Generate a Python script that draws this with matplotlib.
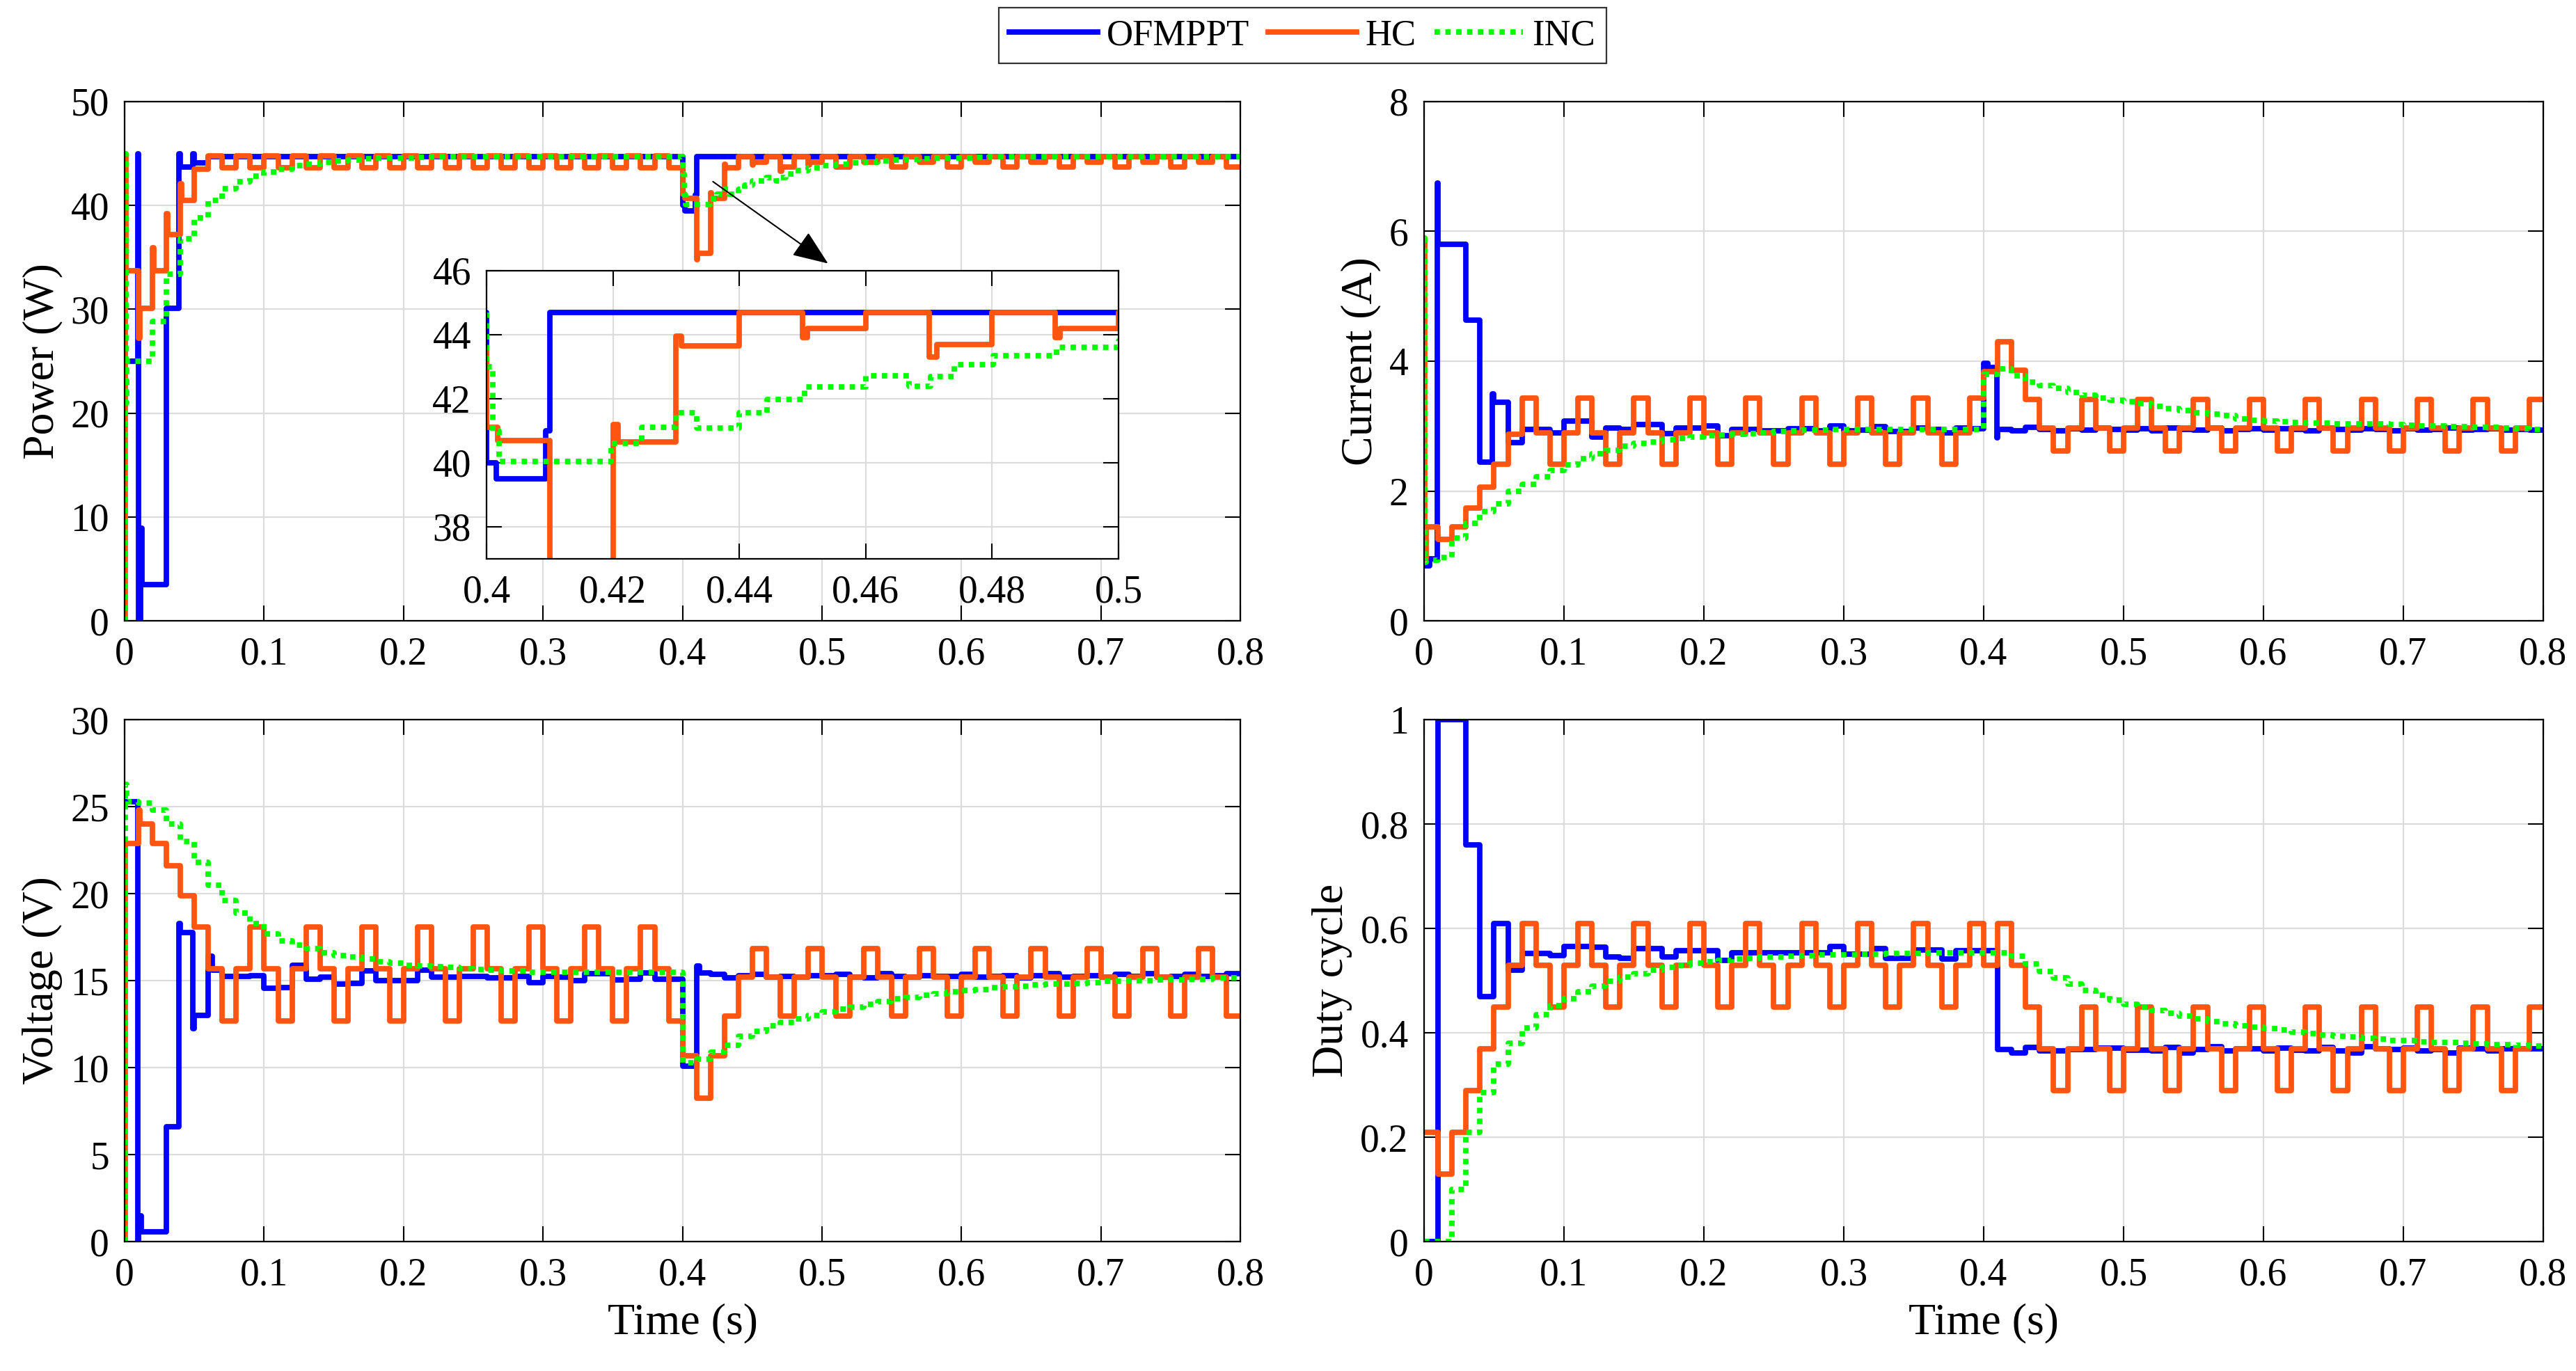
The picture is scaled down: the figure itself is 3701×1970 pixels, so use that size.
import numpy as np
import matplotlib.pyplot as plt

plt.rcParams['font.family'] = ['Liberation Serif', 'DejaVu Serif']

# values per 0.01 s sampling interval, 0.00 ... 0.79 s
ofm_duty = [
    0.0, 1.0, 1.0, 0.76, 0.47, 0.61, 0.52, 0.552, 0.552, 0.548,
    0.566, 0.566, 0.564, 0.546, 0.543, 0.561, 0.561, 0.545, 0.557, 0.557,
    0.557, 0.539, 0.553, 0.553, 0.553, 0.553, 0.553, 0.553, 0.553, 0.565,
    0.551, 0.551, 0.562, 0.543, 0.543, 0.559, 0.559, 0.542, 0.558, 0.558,
    0.558, 0.368, 0.362, 0.372, 0.365, 0.365, 0.368, 0.368, 0.371, 0.371,
    0.367, 0.367, 0.366, 0.372, 0.361, 0.368, 0.374, 0.365, 0.370, 0.370,
    0.365, 0.371, 0.367, 0.366, 0.372, 0.366, 0.361, 0.374, 0.370, 0.368,
    0.371, 0.366, 0.368, 0.362, 0.371, 0.370, 0.366, 0.370, 0.370, 0.369]
hc_duty = [
    0.21, 0.13, 0.21, 0.29, 0.37, 0.45, 0.53, 0.61, 0.53, 0.45,
    0.53, 0.61, 0.53, 0.45, 0.53, 0.61, 0.53, 0.45, 0.53, 0.61,
    0.53, 0.45, 0.53, 0.61, 0.53, 0.45, 0.53, 0.61, 0.53, 0.45,
    0.53, 0.61, 0.53, 0.45, 0.53, 0.61, 0.53, 0.45, 0.53, 0.61,
    0.53, 0.61, 0.53, 0.45, 0.37, 0.29, 0.37, 0.45, 0.37, 0.29,
    0.37, 0.45, 0.37, 0.29, 0.37, 0.45, 0.37, 0.29, 0.37, 0.45,
    0.37, 0.29, 0.37, 0.45, 0.37, 0.29, 0.37, 0.45, 0.37, 0.29,
    0.37, 0.45, 0.37, 0.29, 0.37, 0.45, 0.37, 0.29, 0.37, 0.45]
inc_duty = [
    0.0, 0.0, 0.10, 0.21, 0.285, 0.34, 0.38, 0.409, 0.435, 0.452,
    0.466, 0.479, 0.49, 0.499, 0.507, 0.514, 0.52, 0.525, 0.529, 0.533,
    0.536, 0.539, 0.541, 0.543, 0.545, 0.546, 0.547, 0.548, 0.549, 0.55,
    0.55, 0.551, 0.551, 0.552, 0.552, 0.552, 0.553, 0.553, 0.553, 0.553,
    0.553, 0.553, 0.547, 0.532, 0.518, 0.505, 0.493, 0.482, 0.472, 0.463,
    0.455, 0.449, 0.443, 0.437, 0.432, 0.427, 0.422, 0.418, 0.414, 0.411,
    0.408, 0.405, 0.402, 0.399, 0.396, 0.394, 0.392, 0.39, 0.388, 0.386,
    0.385, 0.383, 0.382, 0.381, 0.38, 0.379, 0.378, 0.377, 0.376, 0.375]

ofm_power = [
    25.0, 3.5, 3.5, 30.1, 43.7, 44.1, 44.7, 44.7, 44.7, 44.7,
    44.7, 44.7, 44.7, 44.7, 44.7, 44.7, 44.7, 44.7, 44.7, 44.7,
    44.7, 44.7, 44.7, 44.7, 44.7, 44.7, 44.7, 44.7, 44.7, 44.7,
    44.7, 44.7, 44.7, 44.7, 44.7, 44.7, 44.7, 44.7, 44.7, 44.7,
    39.5, 44.7, 44.7, 44.7, 44.7, 44.7, 44.7, 44.7, 44.7, 44.7,
    44.7, 44.7, 44.7, 44.7, 44.7, 44.7, 44.7, 44.7, 44.7, 44.7,
    44.7, 44.7, 44.7, 44.7, 44.7, 44.7, 44.7, 44.7, 44.7, 44.7,
    44.7, 44.7, 44.7, 44.7, 44.7, 44.7, 44.7, 44.7, 44.7, 44.7]
ofm_power_xt = [0.0092, 0.01, 0.0115, 0.0122, 0.039, 0.049, 0.40, 0.4015, 0.4093, 0.4102]
ofm_power_xv = [45.0, 0.0, 8.9, 3.5, 45.0, 45.0, 40.0, 39.5, 41.0, 44.7]

hc_power = [
    33.7, 30.1, 33.7, 37.2, 40.5, 43.5, 44.8, 43.6, 44.8, 43.6,
    44.8, 43.6, 44.8, 43.6, 44.8, 43.6, 44.8, 43.6, 44.8, 43.6,
    44.8, 43.6, 44.8, 43.6, 44.8, 43.6, 44.8, 43.6, 44.8, 43.6,
    44.8, 43.6, 44.8, 43.6, 44.8, 43.6, 44.8, 43.6, 44.8, 43.6,
    40.7, 35.4, 40.65, 43.65, 44.7, 44.2, 44.7, 43.7, 44.7, 44.2,
    44.7, 43.7, 44.7, 44.2, 44.7, 43.7, 44.7, 44.2, 44.7, 43.7,
    44.7, 44.2, 44.7, 43.7, 44.7, 44.2, 44.7, 43.7, 44.7, 44.2,
    44.7, 43.7, 44.7, 44.2, 44.7, 43.7, 44.7, 44.2, 44.7, 43.7]
hc_power_xt = [0.0, 0.0004, 0.001, 0.01, 0.0108, 0.02, 0.0208, 0.03, 0.0308, 0.04, 0.0408,
               0.40, 0.4018, 0.41, 0.4108, 0.42, 0.4208, 0.43, 0.4308,
               0.45, 0.4508, 0.47, 0.4712, 0.49, 0.4908]
hc_power_xv = [0.0, 45.0, 33.7, 27.2, 30.1, 35.9, 33.7, 39.2, 37.2, 42.1, 40.5,
               41.1, 40.7, 34.8, 35.4, 41.2, 40.65, 43.95, 43.65,
               43.9, 44.2, 43.3, 43.7, 43.9, 44.2]

inc_power = [
    25.0, 25.0, 28.8, 33.4, 36.8, 38.8, 40.5, 41.6, 42.3, 42.8,
    43.2, 43.5, 43.8, 44.0, 44.2, 44.3, 44.4, 44.5, 44.55, 44.6,
    44.6, 44.65, 44.7, 44.7, 44.7, 44.7, 44.7, 44.7, 44.7, 44.7,
    44.7, 44.7, 44.7, 44.7, 44.7, 44.7, 44.7, 44.7, 44.7, 44.7,
    40.05, 40.05, 40.6, 41.57, 41.57, 41.98, 42.72, 42.38, 43.06, 43.34,
    43.8, 44.0, 44.1, 44.2, 44.3, 44.4, 44.45, 44.5, 44.55, 44.6,
    44.6, 44.65, 44.7, 44.7, 44.7, 44.7, 44.7, 44.7, 44.7, 44.7,
    44.7, 44.7, 44.7, 44.7, 44.7, 44.7, 44.7, 44.7, 44.7, 44.7]
inc_power_xt = [0.0, 0.0004, 0.0008, 0.0015, 0.40, 0.401, 0.402, 0.4197, 0.4245, 0.43,
                0.4333, 0.44, 0.4444, 0.4503, 0.46, 0.4669, 0.4703, 0.474, 0.4802, 0.4902]
inc_power_xv = [0.0, 45.0, 21.0, 25.0, 43.0, 41.0, 40.05, 40.6, 41.1, 41.57,
                41.08, 41.57, 41.98, 42.36, 42.72, 42.38, 42.7, 43.06, 43.34, 43.6]

ofm_current = [
    1.0, 5.8, 5.8, 4.63, 2.44, 3.37, 2.75, 2.95, 2.95, 2.9,
    3.08, 3.08, 2.83, 2.97, 2.95, 3.02, 3.02, 2.88, 2.97, 2.97,
    3.0, 2.85, 2.95, 2.95, 2.93, 2.93, 2.96, 2.96, 2.93, 3.0,
    2.93, 2.94, 2.99, 2.92, 2.92, 2.97, 2.95, 2.9, 2.97, 2.96,
    3.9, 2.95, 2.93, 2.98, 2.95, 2.93, 2.96, 2.94, 2.97, 2.95,
    2.94, 2.96, 2.93, 2.97, 2.95, 2.94, 2.97, 2.93, 2.95, 2.96,
    2.94, 2.96, 2.95, 2.93, 2.97, 2.95, 2.94, 2.96, 2.95, 2.93,
    2.96, 2.94, 2.95, 2.97, 2.94, 2.95, 2.96, 2.94, 2.95, 2.94]
ofm_current_xt = [0.0, 0.004, 0.0095, 0.0115, 0.049, 0.051, 0.40, 0.403, 0.4095, 0.411]
ofm_current_xv = [0.85, 0.95, 6.75, 5.8, 3.5, 3.37, 3.97, 3.9, 2.82, 2.95]

hc_current = [
    1.45, 1.25, 1.45, 1.74, 2.06, 2.41, 2.87, 3.43, 2.9, 2.41,
    2.9, 3.43, 2.9, 2.41, 2.9, 3.43, 2.9, 2.41, 2.9, 3.43,
    2.9, 2.41, 2.9, 3.43, 2.9, 2.41, 2.9, 3.43, 2.9, 2.41,
    2.9, 3.43, 2.9, 2.41, 2.9, 3.43, 2.9, 2.41, 2.9, 3.43,
    3.84, 4.3, 3.86, 3.41, 2.97, 2.62, 2.97, 3.41, 2.97, 2.62,
    2.97, 3.41, 2.97, 2.62, 2.97, 3.41, 2.97, 2.62, 2.97, 3.41,
    2.97, 2.62, 2.97, 3.41, 2.97, 2.62, 2.97, 3.41, 2.97, 2.62,
    2.97, 3.41, 2.97, 2.62, 2.97, 3.41, 2.97, 2.62, 2.97, 3.41]
hc_current_xt = [0.0, 0.0007, 0.0015]
hc_current_xv = [5.9, 0.95, 1.45]

inc_current = [
    0.93, 0.98, 1.28, 1.5, 1.68, 1.8, 2.0, 2.1, 2.22, 2.32,
    2.4, 2.5, 2.57, 2.63, 2.69, 2.73, 2.76, 2.79, 2.81, 2.83,
    2.85, 2.86, 2.87, 2.89, 2.9, 2.92, 2.93, 2.94, 2.94, 2.95,
    2.95, 2.95, 2.95, 2.95, 2.95, 2.95, 2.95, 2.95, 2.95, 2.95,
    3.8, 3.88, 3.78, 3.68, 3.62, 3.58, 3.52, 3.47, 3.43, 3.4,
    3.38, 3.35, 3.3, 3.27, 3.24, 3.21, 3.19, 3.16, 3.11, 3.09,
    3.08, 3.07, 3.06, 3.05, 3.05, 3.04, 3.04, 3.03, 3.03, 3.02,
    3.01, 3.0, 3.0, 2.99, 2.99, 2.98, 2.98, 2.97, 2.96, 2.95]
inc_current_xt = [0.0, 0.0007, 0.0015]
inc_current_xv = [5.9, 0.9, 0.93]

ofm_voltage = [
    25.3, 0.55, 0.55, 6.6, 17.75, 13.0, 15.8, 15.25, 15.25, 15.3,
    14.55, 14.6, 15.9, 15.1, 15.2, 14.8, 14.85, 15.55, 15.0, 15.0,
    15.0, 15.6, 15.2, 15.2, 15.25, 15.25, 15.15, 15.15, 15.25, 14.9,
    15.25, 15.2, 15.0, 15.4, 15.4, 15.05, 15.1, 15.45, 15.1, 15.1,
    10.1, 15.45, 15.35, 15.15, 15.3, 15.35, 15.2, 15.25, 15.2, 15.3,
    15.3, 15.35, 15.2, 15.15, 15.4, 15.25, 15.2, 15.3, 15.25, 15.25,
    15.35, 15.2, 15.25, 15.3, 15.15, 15.3, 15.4, 15.2, 15.25, 15.3,
    15.2, 15.35, 15.25, 15.4, 15.2, 15.25, 15.35, 15.25, 15.3, 15.4]
ofm_voltage_xt = [0.0095, 0.011, 0.0118, 0.039, 0.041, 0.049, 0.051, 0.06, 0.063, 0.41, 0.412]
ofm_voltage_xv = [0.0, 1.5, 0.55, 18.3, 17.75, 12.25, 13.0, 16.4, 15.6, 15.85, 15.45]

hc_voltage = [
    22.9, 24.0, 22.9, 21.6, 19.9, 18.1, 15.7, 12.7, 15.7, 18.1,
    15.7, 12.7, 15.7, 18.1, 15.7, 12.7, 15.7, 18.1, 15.7, 12.7,
    15.7, 18.1, 15.7, 12.7, 15.7, 18.1, 15.7, 12.7, 15.7, 18.1,
    15.7, 12.7, 15.7, 18.1, 15.7, 12.7, 15.7, 18.1, 15.7, 12.7,
    10.7, 8.25, 10.7, 12.96, 15.2, 16.85, 15.2, 12.96, 15.2, 16.85,
    15.2, 12.96, 15.2, 16.85, 15.2, 12.96, 15.2, 16.85, 15.2, 12.96,
    15.2, 16.85, 15.2, 12.96, 15.2, 16.85, 15.2, 12.96, 15.2, 16.85,
    15.2, 12.96, 15.2, 16.85, 15.2, 12.96, 15.2, 16.85, 15.2, 12.96]
hc_voltage_xt = [0.0, 0.0006, 0.01, 0.0108]
hc_voltage_xv = [0.0, 22.9, 24.8, 24.0]

inc_voltage = [
    25.3, 25.2, 24.8, 24.0, 23.0, 21.8, 20.5, 19.6, 18.9, 18.3,
    17.7, 17.3, 17.05, 16.85, 16.6, 16.45, 16.35, 16.25, 16.1, 16.0,
    15.9, 15.85, 15.8, 15.75, 15.7, 15.65, 15.6, 15.55, 15.55, 15.5,
    15.5, 15.5, 15.5, 15.5, 15.5, 15.5, 15.5, 15.5, 15.5, 15.5,
    10.3, 10.5, 10.9, 11.3, 11.8, 12.1, 12.4, 12.6, 12.8, 13.0,
    13.2, 13.35, 13.5, 13.65, 13.8, 13.95, 14.05, 14.15, 14.25, 14.35,
    14.45, 14.5, 14.6, 14.65, 14.7, 14.75, 14.8, 14.8, 14.85, 14.9,
    14.95, 14.95, 15.0, 15.0, 15.05, 15.05, 15.1, 15.1, 15.15, 15.15]
inc_voltage_xt = [0.0, 0.0005, 0.0015]
inc_voltage_xv = [0.0, 26.3, 25.3]

labels = ['OFMPPT', 'HC', 'INC']
colors = ['#0000FF', '#FF5511', '#00FF00']
time_ticks = [0, 0.1, 0.2, 0.3, 0.4, 0.5, 0.6, 0.7, 0.8]
time_labels = ['0', '0.1', '0.2', '0.3', '0.4', '0.5', '0.6', '0.7', '0.8']


def build(levels, extra_t=(), extra_v=()):
    # sample-and-hold steps every 0.01 s, plus a few read-off transients
    pts = {round(i * 0.01, 4): v for i, v in enumerate(levels)}
    for t, v in zip(extra_t, extra_v):
        pts[round(t, 4)] = v
    t = sorted(pts)
    v = [pts[k] for k in t]
    t.append(0.8)
    v.append(v[-1])
    return np.array(t), np.array(v)


def draw(ax, series):
    for (t, v), c, lab in zip(series, colors, labels):
        if lab == 'INC':
            ax.plot(t, v, color=c, lw=5.6, ls=(0, (1.0, 1.0)), drawstyle='steps-post', label=lab)
        else:
            ax.plot(t, v, color=c, lw=5.6, drawstyle='steps-post', label=lab)


def style(ax, ylim, yticks, ylabels):
    ax.set_ylim(*ylim)
    ax.set_yticks(yticks)
    ax.set_yticklabels(ylabels)
    ax.grid(True, color='#dcdcdc', lw=1.6)
    ax.set_axisbelow(True)
    ax.tick_params(direction='in', top=True, right=True, length=16, width=1.5,
                   labelsize=40, pad=16)
    for s in ax.spines.values():
        s.set_linewidth(1.6)


power = [build(ofm_power, ofm_power_xt, ofm_power_xv),
         build(hc_power, hc_power_xt, hc_power_xv),
         build(inc_power, inc_power_xt, inc_power_xv)]
current = [build(ofm_current, ofm_current_xt, ofm_current_xv),
           build(hc_current, hc_current_xt, hc_current_xv),
           build(inc_current, inc_current_xt, inc_current_xv)]
voltage = [build(ofm_voltage, ofm_voltage_xt, ofm_voltage_xv),
           build(hc_voltage, hc_voltage_xt, hc_voltage_xv),
           build(inc_voltage, inc_voltage_xt, inc_voltage_xv)]
duty = [build(ofm_duty), build(hc_duty), build(inc_duty)]

fig = plt.figure(figsize=(37.01, 19.70), dpi=100)
ax_p = fig.add_axes([0.0484, 0.5472, 0.4331, 0.3787])
ax_i = fig.add_axes([0.5528, 0.5472, 0.4345, 0.3787])
ax_v = fig.add_axes([0.0484, 0.0944, 0.4331, 0.3807])
ax_d = fig.add_axes([0.5528, 0.0944, 0.4345, 0.3807])

panels = [
    (ax_p, power, (0, 50), [0, 10, 20, 30, 40, 50], ['0', '10', '20', '30', '40', '50'], 'Power (W)'),
    (ax_i, current, (0, 8), [0, 2, 4, 6, 8], ['0', '2', '4', '6', '8'], 'Current (A)'),
    (ax_v, voltage, (0, 30), [0, 5, 10, 15, 20, 25, 30], ['0', '5', '10', '15', '20', '25', '30'], 'Voltage (V)'),
    (ax_d, duty, (0, 1), [0, 0.2, 0.4, 0.6, 0.8, 1], ['0', '0.2', '0.4', '0.6', '0.8', '1'], 'Duty cycle'),
]
for ax, series, ylim, yt, yl, name in panels:
    draw(ax, series)
    ax.set_xlim(0, 0.8)
    ax.set_xticks(time_ticks)
    ax.set_xticklabels(time_labels)
    style(ax, ylim, yt, yl)
    ax.set_ylabel(name, fontsize=46, labelpad=8)

ax_v.set_xlabel('Time (s)', fontsize=46, labelpad=10)
ax_d.set_xlabel('Time (s)', fontsize=46, labelpad=10)

# zoom of the power response after the step at 0.4 s
ax_p.annotate('', xy=(0.5055, 34.3), xytext=(0.4207, 42.4),
              arrowprops=dict(arrowstyle='-|>,head_length=1.0,head_width=0.4',
                              color='black', lw=1.5, mutation_scale=32))
ins = fig.add_axes([0.1889, 0.5924, 0.2453, 0.2102])
draw(ins, power)
ins.set_xlim(0.4, 0.5)
ins.set_xticks([0.4, 0.42, 0.44, 0.46, 0.48, 0.5])
ins.set_xticklabels(['0.4', '0.42', '0.44', '0.46', '0.48', '0.5'])
style(ins, (37, 46), [38, 40, 42, 44, 46], ['38', '40', '42', '44', '46'])

handles = ax_p.get_lines()[:3]
leg = fig.legend(handles, labels, loc='center', bbox_to_anchor=(0.5056, 0.974), ncol=3,
                 fontsize=38, frameon=True, fancybox=False, edgecolor='black',
                 handlelength=2.4, handletextpad=0.25, columnspacing=0.5,
                 borderpad=0.3, borderaxespad=0)
leg.get_frame().set_linewidth(1.6)

fig.savefig('out.png', dpi=100, facecolor='white')
